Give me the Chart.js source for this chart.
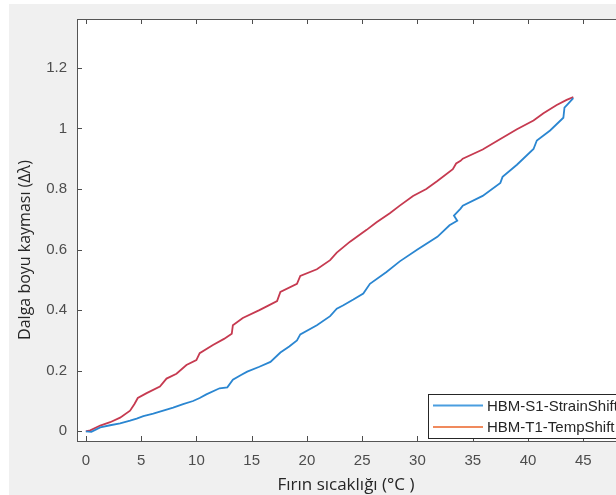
<!DOCTYPE html>
<html>
<head>
<meta charset="utf-8">
<script src="https://cdn.jsdelivr.net/npm/chart.js@4.4.1/dist/chart.umd.min.js"></script>
<style>
  html, body { margin: 0; padding: 0; background: #ffffff; overflow: hidden; }
  #wrap { width: 700px; height: 495px; }
</style>
</head>
<body>
<div id="wrap"><canvas id="c" width="700" height="495"></canvas></div>
<script>
// values
const seriesNames = ['HBM-S1-StrainShift', 'HBM-T1-TempShift'];
const lineColors = ['#2a86d1', '#c63a50'];
const legendColors = ['#4a9ee0', '#f08a5d'];

const strainX = [0, 0.5, 1.3, 2.2, 3.1, 4.0, 4.6, 5.2, 6.1, 7.0, 7.9, 8.8, 9.7, 10.3, 10.9, 12.1, 12.8, 13.3, 14.0, 14.6, 15.7, 16.7, 17.6, 18.4, 19.1, 19.4, 20.9, 22.1, 22.7, 23.3, 24.2, 25.1, 25.7, 27.2, 28.4, 30.0, 31.8, 32.9, 33.6, 33.3, 33.9, 34.1, 35.9, 37.5, 37.7, 39.0, 40.5, 40.8, 42.0, 43.2, 43.3, 43.6, 44.1];
const strainY = [0, -0.002, 0.013, 0.02, 0.026, 0.035, 0.042, 0.05, 0.058, 0.068, 0.078, 0.09, 0.1, 0.11, 0.122, 0.142, 0.145, 0.17, 0.185, 0.197, 0.213, 0.229, 0.26, 0.28, 0.3, 0.32, 0.35, 0.38, 0.405, 0.416, 0.435, 0.455, 0.487, 0.526, 0.561, 0.6, 0.642, 0.68, 0.695, 0.712, 0.735, 0.745, 0.777, 0.82, 0.84, 0.88, 0.932, 0.96, 0.993, 1.035, 1.068, 1.08, 1.1];

const tempX = [0, 0.4, 1.3, 2.2, 3.1, 4.0, 4.4, 4.7, 5.5, 6.7, 7.3, 8.2, 9.1, 10.0, 10.3, 11.5, 12.5, 13.2, 13.3, 14.2, 15.7, 16.5, 17.3, 17.6, 19.1, 19.4, 20.9, 22.1, 22.7, 23.9, 25.4, 26.3, 27.5, 28.4, 29.6, 30.8, 31.8, 33.2, 33.5, 33.9, 34.1, 35.9, 37.5, 39.0, 40.5, 41.4, 42.6, 43.5, 44.1];
const tempY = [0, 0.003, 0.019, 0.03, 0.045, 0.068, 0.09, 0.11, 0.126, 0.148, 0.174, 0.19, 0.219, 0.235, 0.258, 0.285, 0.305, 0.322, 0.35, 0.374, 0.4, 0.415, 0.43, 0.46, 0.487, 0.513, 0.535, 0.565, 0.59, 0.626, 0.665, 0.69, 0.72, 0.745, 0.777, 0.8, 0.826, 0.865, 0.884, 0.893, 0.9, 0.93, 0.965, 0.997, 1.026, 1.05, 1.077, 1.094, 1.103];

const xTicks = [0, 5, 10, 15, 20, 25, 30, 35, 40, 45];
const yTicks = [0, 0.2, 0.4, 0.6, 0.8, 1, 1.2];
const xTitle = 'Fırın sıcaklığı (°C )';
const yTitle = 'Dalga boyu kayması (Δλ)';

function pts(xs, ys) {
  return xs.map((x, i) => ({ x: x, y: ys[i] }));
}

const tickFont = { family: '"Liberation Sans", Arial, sans-serif', size: 15 };

const matlabLook = {
  id: 'matlabLook',
  beforeDraw(chart) {
    const { ctx, chartArea: a } = chart;
    ctx.save();
    ctx.fillStyle = '#ffffff';
    ctx.fillRect(0, 0, chart.width, chart.height);
    ctx.fillStyle = '#f0f0f0';
    ctx.fillRect(9, 4, chart.width - 9, chart.height - 4);
    ctx.fillStyle = '#ffffff';
    ctx.fillRect(a.left, a.top, a.right - a.left, a.bottom - a.top);
    ctx.restore();
  },
  afterDatasetsDraw(chart) {
    const { ctx, chartArea: a, scales } = chart;
    ctx.save();
    ctx.strokeStyle = '#4d4d4d';
    ctx.lineWidth = 1;
    ctx.beginPath();
    xTicks.forEach(v => {
      const px = Math.round(scales.x.getPixelForValue(v)) + 0.5;
      ctx.moveTo(px, a.bottom); ctx.lineTo(px, a.bottom - 5);
      ctx.moveTo(px, a.top); ctx.lineTo(px, a.top + 5);
    });
    yTicks.forEach(v => {
      const py = Math.round(scales.y.getPixelForValue(v)) + 0.5;
      ctx.moveTo(a.left, py); ctx.lineTo(a.left + 5, py);
    });
    ctx.stroke();
    ctx.strokeStyle = '#555555';
    ctx.strokeRect(a.left + 0.5, a.top + 0.5, a.right - a.left, a.bottom - a.top);

    // legend, lower right inside axes
    const bx = 428.5, by = 394.5;
    ctx.fillStyle = '#ffffff';
    ctx.fillRect(bx, by, 210, 44);
    ctx.strokeStyle = '#262626';
    ctx.strokeRect(bx, by, 210, 44);
    ctx.font = '15px "Liberation Sans", Arial, sans-serif';
    ctx.textBaseline = 'middle';
    chart.data.datasets.forEach((ds, i) => {
      const ly = 405.5 + i * 21.5;
      ctx.strokeStyle = legendColors[i];
      ctx.lineWidth = 2;
      ctx.beginPath();
      ctx.moveTo(433, ly); ctx.lineTo(483, ly);
      ctx.stroke();
      ctx.fillStyle = '#262626';
      ctx.fillText(ds.label, 487, ly + 1);
    });

    // axis titles
    ctx.fillStyle = '#262626';
    ctx.textAlign = 'center';
    ctx.font = '17px "Open Sans", "Noto Sans", sans-serif';
    ctx.fillText(xTitle, 346, 485);
    ctx.font = '16px "Open Sans", "Noto Sans", sans-serif';
    ctx.translate(25, 250);
    ctx.rotate(-Math.PI / 2);
    ctx.fillText(yTitle, 0, 0);
    ctx.restore();
  }
};

new Chart(document.getElementById('c'), {
  type: 'scatter',
  data: {
    datasets: [
      { label: seriesNames[0], data: pts(strainX, strainY), borderColor: lineColors[0], backgroundColor: lineColors[0] },
      { label: seriesNames[1], data: pts(tempX, tempY), borderColor: lineColors[1], backgroundColor: lineColors[1] }
    ].map(d => Object.assign(d, { showLine: true, pointRadius: 0, borderWidth: 1.8, tension: 0 }))
  },
  options: {
    responsive: false,
    animation: false,
    devicePixelRatio: 1,
    layout: { padding: { top: 9, right: 67, left: 0, bottom: 0 } },
    plugins: { legend: { display: false }, tooltip: { enabled: false } },
    scales: {
      x: {
        type: 'linear', min: -0.8, max: 49.5,
        afterBuildTicks: s => { s.ticks = xTicks.map(v => ({ value: v })); },
        afterFit: s => { s.height = 54; },
        grid: { display: false, drawTicks: false },
        border: { display: false },
        ticks: { padding: 11, color: '#4d4d4d', font: tickFont, callback: v => String(v) }
      },
      y: {
        min: -0.032, max: 1.361,
        afterBuildTicks: s => { s.ticks = yTicks.map(v => ({ value: v })); },
        afterFit: s => { s.width = 77; },
        grid: { display: false, drawTicks: false },
        border: { display: false },
        ticks: { padding: 10, color: '#4d4d4d', font: tickFont, callback: v => String(v) }
      }
    }
  },
  plugins: [matlabLook]
});
</script>
</body>
</html>
